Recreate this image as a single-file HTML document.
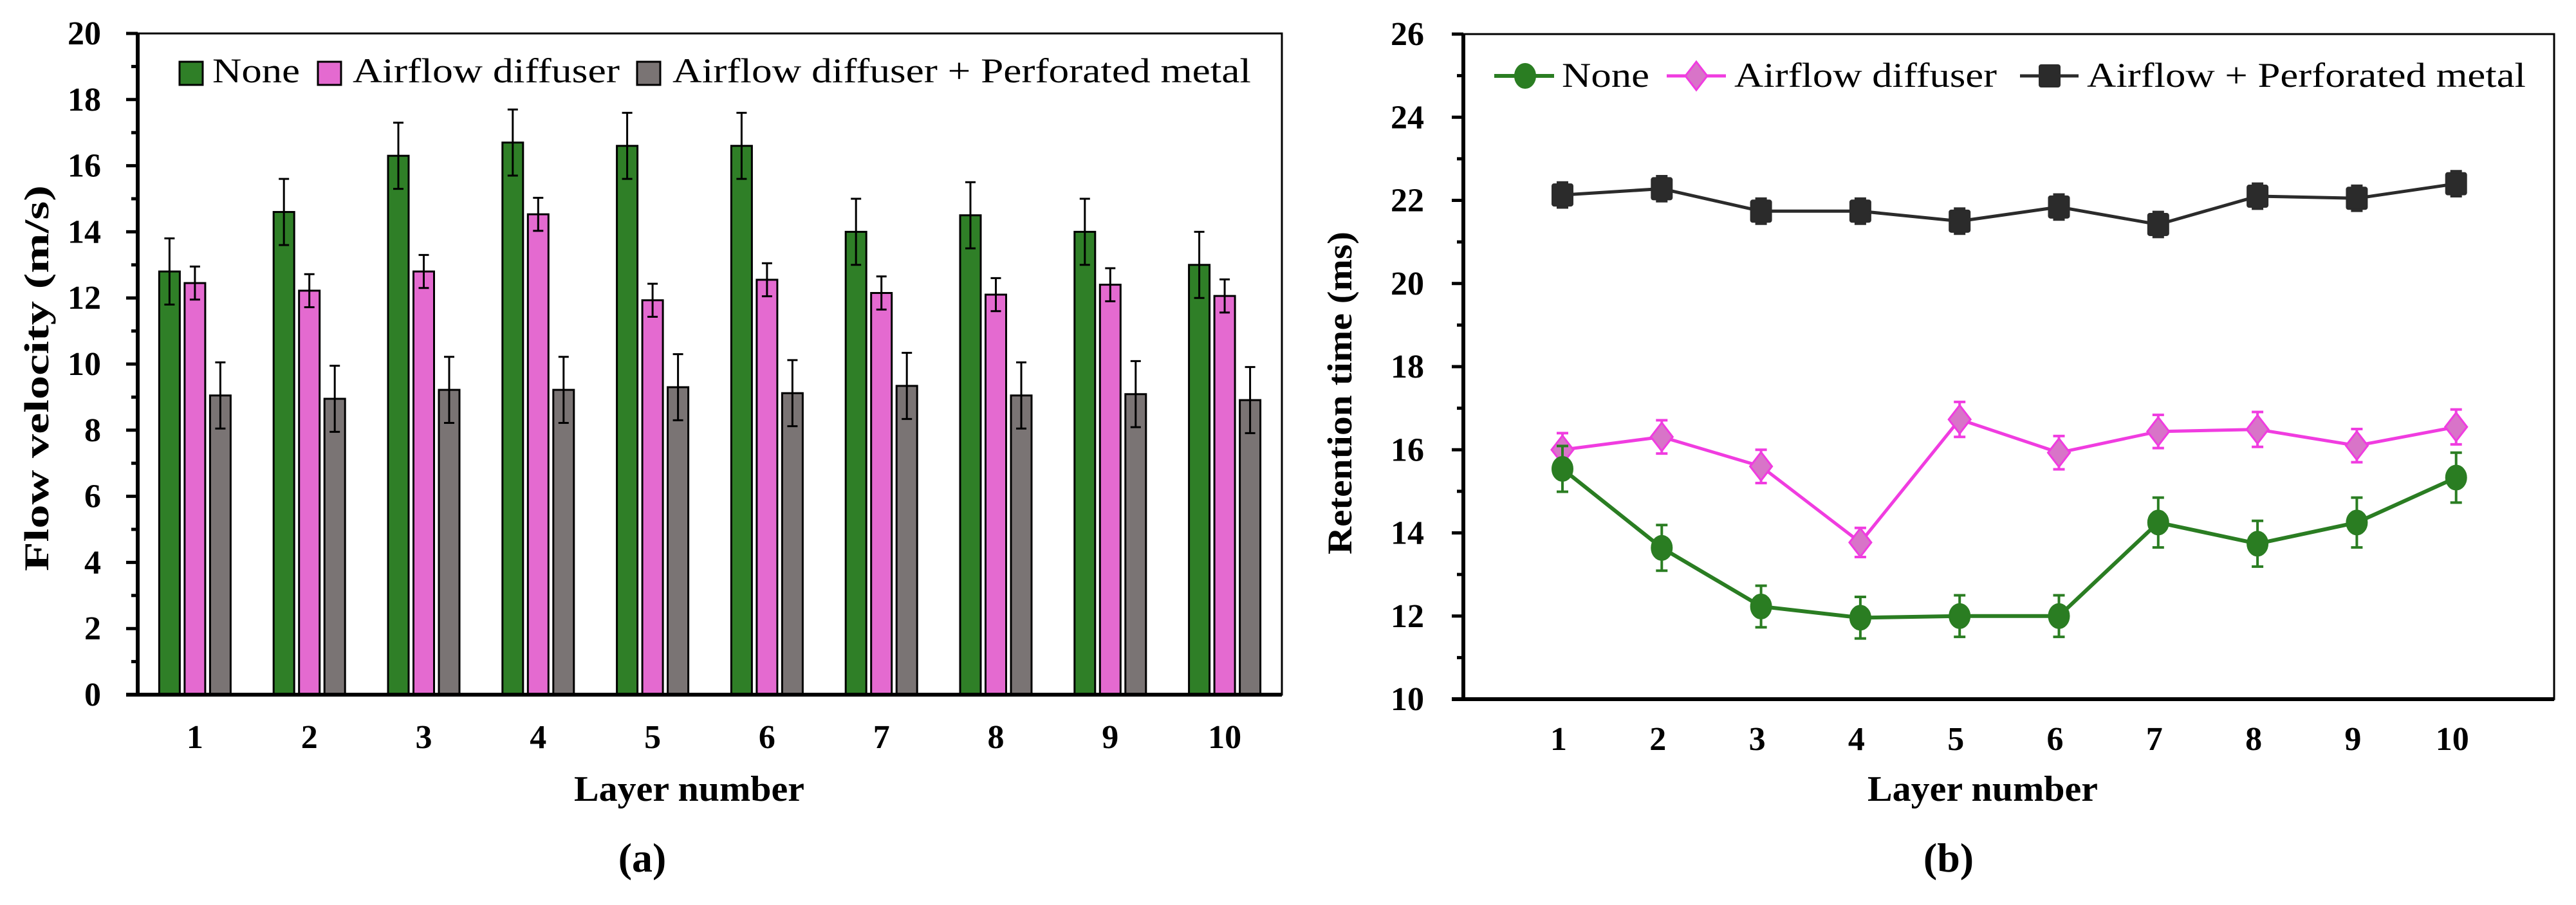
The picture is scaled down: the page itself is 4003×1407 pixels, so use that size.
<!DOCTYPE html>
<html><head><meta charset="utf-8"><style>
html,body{margin:0;padding:0;background:#fff;}
svg{display:block;}
text{font-family:"Liberation Serif",serif;fill:#000;}
</style></head><body>
<svg id="fig" width="4003" height="1407" viewBox="0 0 4003 1407" xmlns="http://www.w3.org/2000/svg">
<g id="chartA"></g>
<g id="chartB"></g>
</svg>
<script>
// ---------- Chart (a) data ----------
const layersA = ["1","2","3","4","5","6","7","8","9","10"];
const noneVel = [12.8,14.6,16.3,16.7,16.6,16.6,14.0,14.5,14.0,13.0];
const noneVelErr = [1.0,1.0,1.0,1.0,1.0,1.0,1.0,1.0,1.0,1.0];
const diffVel = [12.45,12.22,12.8,14.53,11.93,12.55,12.15,12.1,12.4,12.06];
const diffVelErr = [0.5,0.5,0.5,0.5,0.5,0.5,0.5,0.5,0.5,0.5];
const perfVel = [9.05,8.95,9.22,9.22,9.3,9.12,9.34,9.05,9.09,8.91];
const perfVelErr = [1.0,1.0,1.0,1.0,1.0,1.0,1.0,1.0,1.0,1.0];
const yTicksA = [0,2,4,6,8,10,12,14,16,18,20];
// ---------- Chart (b) data ----------
const layersB = ["1","2","3","4","5","6","7","8","9","10"];
const noneRet = [15.54,13.64,12.23,11.96,12.0,12.0,14.25,13.74,14.25,15.33];
const noneRetErr = [0.55,0.55,0.5,0.5,0.5,0.5,0.6,0.55,0.6,0.6];
const diffRet = [16.0,16.31,15.6,13.77,16.73,15.93,16.44,16.49,16.1,16.55];
const diffRetErr = [0.4,0.4,0.4,0.35,0.42,0.4,0.4,0.42,0.4,0.42];
const perfRet = [22.13,22.28,21.74,21.74,21.5,21.84,21.42,22.1,22.05,22.4];
const perfRetErr = [0.3,0.3,0.3,0.3,0.3,0.3,0.3,0.3,0.3,0.3];
const yTicksB = [10,12,14,16,18,20,22,24,26];

const NS = "http://www.w3.org/2000/svg";
function mk(parent, tag, attrs){
  const e = document.createElementNS(NS, tag);
  for (const k in attrs) e.setAttribute(k, attrs[k]);
  parent.appendChild(e);
  return e;
}
function txt(parent, str, attrs){
  const t = mk(parent, "text", attrs);
  t.textContent = str;
  return t;
}

// ================= Chart A =================
(function(){
  const g = document.getElementById("chartA");
  const L=214, R=1992, T=52, B=1080, vmin=0, vmax=20;
  const y = v => B - (v - vmin) / (vmax - vmin) * (B - T);
  const cw = (R - L) / layersA.length;
  const xc = i => L + cw * (i + 0.5);
  const bw = 32, pitch = 39.5;
  const series = [
    {vals:noneVel, err:noneVelErr, fill:"#2f7f27", off:-1, name:"none"},
    {vals:diffVel, err:diffVelErr, fill:"#e46ad0", off:0, name:"airflow-diffuser"},
    {vals:perfVel, err:perfVelErr, fill:"#7a7474", off:1, name:"diffuser-perforated"}
  ];
  // frame
  const frame = mk(g,"rect",{x:L,y:T,width:R-L,height:B-T,fill:"none",stroke:"#000","stroke-width":3});
  
  
  // bars
  series.forEach(s=>{
    s.vals.forEach((v,i)=>{
      const cx = xc(i) + s.off*pitch;
      const r = mk(g,"rect",{x:cx-bw/2,y:y(v),width:bw,height:B-y(v),fill:s.fill,stroke:"#000","stroke-width":3});
      
      
      const e = s.err[i];
      const eb = mk(g,"path",{d:`M${cx},${y(v+e)}V${y(v-e)}M${cx-8},${y(v+e)}H${cx+8}M${cx-8},${y(v-e)}H${cx+8}`,stroke:"#000","stroke-width":3,fill:"none"});
      
      
    });
  });
  // axes lines thick
  const ax = mk(g,"path",{d:`M${L},${T}V${B}M${L-18},${B}H${R}`,stroke:"#000","stroke-width":6,fill:"none"});
  
  
  // y ticks
  yTicksA.forEach((v,k)=>{
    const tk = mk(g,"line",{x1:L-18,x2:L,y1:y(v),y2:y(v),stroke:"#000","stroke-width":5});
    
    
    if (k < yTicksA.length-1){
      const m = mk(g,"line",{x1:L-10,x2:L,y1:y(v+1),y2:y(v+1),stroke:"#000","stroke-width":5});
      
      
    }
    const lb = txt(g,String(v),{x:157,y:y(v)+17,"text-anchor":"end","font-size":52,"font-weight":"bold"});
    
    
  });
  layersA.forEach((c,i)=>{
    const lb = txt(g,c,{x:xc(i),y:1163,"text-anchor":"middle","font-size":52,"font-weight":"bold"});
    
    
  });
  const yt = txt(g,"Flow velocity (m/s)",{x:0,y:0,"text-anchor":"middle","font-size":54,"font-weight":"bold",textLength:600,lengthAdjust:"spacingAndGlyphs",transform:"translate(75,588) rotate(-90)"});
  
  
  const xt = txt(g,"Layer number",{x:1071,y:1245,"text-anchor":"middle","font-size":56,"font-weight":"bold",textLength:358,lengthAdjust:"spacingAndGlyphs"});
  
  
  const pl = txt(g,"(a)",{x:998,y:1355,"text-anchor":"middle","font-size":64,"font-weight":"bold"});
  
  
  // legend
  const leg = [
    {box:279, tx:330, w:136, label:"None", fill:"#2f7f27", n:"none"},
    {box:494, tx:548, w:415, label:"Airflow diffuser", fill:"#e46ad0", n:"airflow-diffuser"},
    {box:990, tx:1045, w:899, label:"Airflow diffuser + Perforated metal", fill:"#7a7474", n:"diffuser-perforated"}
  ];
  leg.forEach(l=>{
    const b = mk(g,"rect",{x:l.box,y:96,width:36,height:36,fill:l.fill,stroke:"#000","stroke-width":3});
    
    
    const t = txt(g,l.label,{x:l.tx,y:128,"font-size":54,textLength:l.w,lengthAdjust:"spacingAndGlyphs"});
    
    
  });
})();

// ================= Chart B =================
(function(){
  const g = document.getElementById("chartB");
  const L=2274, R=3969, T=53, B=1087, vmin=10, vmax=26;
  const y = v => B - (v - vmin) / (vmax - vmin) * (B - T);
  const x0 = 2428, dx = 154.3;
  const x = i => x0 + dx*i;
  const frame = mk(g,"rect",{x:L,y:T,width:R-L,height:B-T,fill:"none",stroke:"#000","stroke-width":3});
  
  
  const series = [
    {vals:perfRet, err:perfRetErr, col:"#2b2b2b", fill:"#2b2b2b", lw:5, mark:"square", n:"airflow-perforated"},
    {vals:diffRet, err:diffRetErr, col:"#f03ce0", fill:"#d874c8", lw:5, mark:"diamond", n:"airflow-diffuser"},
    {vals:noneRet, err:noneRetErr, col:"#2a7d22", fill:"#2a7d22", lw:6, mark:"circle", n:"none"}
  ];
  function marker(parent, kind, cx, cy, s, name){
    let m;
    if (kind==="square") m = mk(parent,"rect",{x:cx-16,y:cy-17,width:32,height:34,rx:3,fill:s.fill,stroke:s.col,"stroke-width":2});
    else if (kind==="diamond") m = mk(parent,"path",{d:`M${cx},${cy-22}L${cx+17},${cy}L${cx},${cy+22}L${cx-17},${cy}Z`,fill:s.fill,stroke:s.col,"stroke-width":3});
    else m = mk(parent,"ellipse",{cx:cx,cy:cy,rx:16,ry:19,fill:s.fill,stroke:s.col,"stroke-width":2});
    
    
    return m;
  }
  series.forEach(s=>{
    const d = s.vals.map((v,i)=>(i?"L":"M")+x(i)+","+y(v)).join("");
    const ln = mk(g,"path",{d:d,stroke:s.col,"stroke-width":s.lw,fill:"none"});
    
    
    s.vals.forEach((v,i)=>{
      const cx=x(i), e=s.err[i];
      const eb = mk(g,"path",{d:`M${cx},${y(v+e)}V${y(v-e)}M${cx-9},${y(v+e)}H${cx+9}M${cx-9},${y(v-e)}H${cx+9}`,stroke:s.col,"stroke-width":4,fill:"none"});
      
      
      marker(g,s.mark,cx,y(v),s,'point-'+s.n+'-layer-'+layersB[i]);
    });
  });
  const ax = mk(g,"path",{d:`M${L},${T}V${B}M${L-18},${B}H${R}`,stroke:"#000","stroke-width":6,fill:"none"});
  
  
  yTicksB.forEach((v,k)=>{
    const tk = mk(g,"line",{x1:L-18,x2:L,y1:y(v),y2:y(v),stroke:"#000","stroke-width":5});
    
    
    if (k < yTicksB.length-1){
      const m = mk(g,"line",{x1:L-10,x2:L,y1:y(v+1),y2:y(v+1),stroke:"#000","stroke-width":5});
      
      
    }
    const lb = txt(g,String(v),{x:2213,y:y(v)+17,"text-anchor":"end","font-size":52,"font-weight":"bold"});
    
    
  });
  layersB.forEach((c,i)=>{
    const lb = txt(g,c,{x:x(i)-6,y:1166,"text-anchor":"middle","font-size":52,"font-weight":"bold"});
    
    
  });
  const yt = txt(g,"Retention time (ms)",{x:0,y:0,"text-anchor":"middle","font-size":54,"font-weight":"bold",textLength:502,lengthAdjust:"spacingAndGlyphs",transform:"translate(2100,611) rotate(-90)"});
  
  
  const xt = txt(g,"Layer number",{x:3081,y:1245,"text-anchor":"middle","font-size":56,"font-weight":"bold",textLength:358,lengthAdjust:"spacingAndGlyphs"});
  
  
  const pl = txt(g,"(b)",{x:3028,y:1355,"text-anchor":"middle","font-size":64,"font-weight":"bold"});
  
  
  const leg = [
    {x1:2322,x2:2415,mx:2370,tx:2427,w:136,label:"None",s:series[2]},
    {x1:2590,x2:2682,mx:2636,tx:2695,w:408,label:"Airflow diffuser",s:series[1]},
    {x1:3139,x2:3230,mx:3185,tx:3243,w:682,label:"Airflow + Perforated metal",s:series[0]}
  ];
  leg.forEach(l=>{
    const ln = mk(g,"line",{x1:l.x1,x2:l.x2,y1:118,y2:118,stroke:l.s.col,"stroke-width":l.s.lw});
    
    
    marker(g,l.s.mark,l.mx,118,l.s,'legend-marker-'+l.s.n);
    const t = txt(g,l.label,{x:l.tx,y:135,"font-size":54,textLength:l.w,lengthAdjust:"spacingAndGlyphs"});
    
    
  });
})();
</script>
</body></html>
